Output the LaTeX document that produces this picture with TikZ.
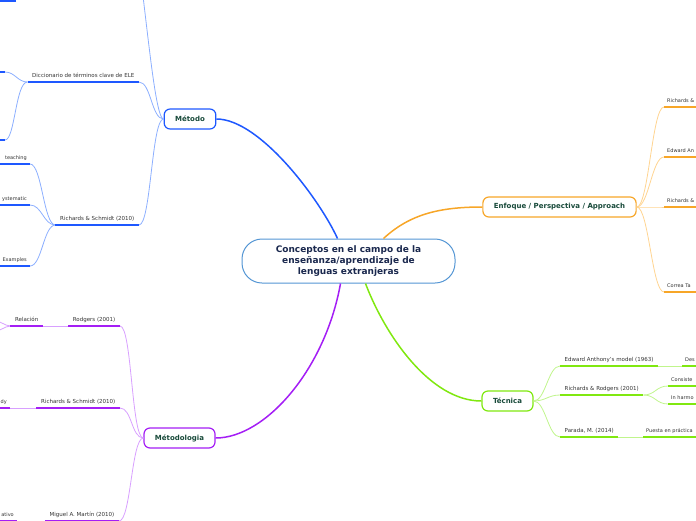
\documentclass[tikz,border=0pt]{standalone}
\usepackage{fontspec}
\setmainfont{DejaVu Sans}
\usetikzlibrary{positioning}
\definecolor{rootline}{RGB}{84,150,212}
\definecolor{rootink}{RGB}{26,40,78}
\definecolor{topicink}{RGB}{24,74,58}
\definecolor{leafink}{RGB}{51,51,51}
\definecolor{mblue}{RGB}{30,88,255}
\definecolor{lblue}{RGB}{140,175,255}
\definecolor{morange}{RGB}{247,166,40}
\definecolor{lorange}{RGB}{255,212,145}
\definecolor{mgreen}{RGB}{128,232,16}
\definecolor{lgreen}{RGB}{192,245,140}
\definecolor{mpurple}{RGB}{164,30,245}
\definecolor{lpurple}{RGB}{216,160,255}

\begin{document}
\begin{tikzpicture}[x=1pt,y=-1pt,
  root/.style={draw=rootline,line width=1pt,rounded corners=20pt,fill=white,minimum width=213pt,minimum height=44pt,align=center,text=rootink,font=\fontsize{9}{11}\selectfont\bfseries},
  topic/.style={draw=#1,line width=1.2pt,rounded corners=6pt,fill=white,minimum height=20pt,inner xsep=11pt,text=topicink,font=\fontsize{7}{8}\selectfont\bfseries},
  leaf/.style={inner xsep=4.5pt,inner ysep=3pt,text height=3.9pt,text depth=1pt,text=leafink,font=\fontsize{5.5}{6}\selectfont},
  edge/.style={leaf,inner xsep=3pt,font=\fontsize{5}{6}\selectfont},
  branch/.style={draw=#1,line width=1.5pt},
  twig/.style={draw=#1,line width=0.8pt},
  uline/.style={draw=#1,line width=1.8pt}]
  \useasboundingbox (0,0) rectangle (696,520);
  \clip (0,0) rectangle (696,520);

  \node[root] (root) at (348.5,261) {Conceptos en el campo de la\\enseñanza/aprendizaje de\\lenguas extranjeras};
  \node[topic=mblue] (met) at (190,119) {Método};
  \node[topic=morange] (enf) at (559.5,207) {Enfoque / Perspectiva / Approach};
  \node[topic=mgreen] (tec) at (507.5,401) {Técnica};
  \node[topic=mpurple] (mto) at (179.5,438) {Métodologia};

  \draw[branch=mblue] ([xshift=-11pt]root.north) .. controls (320,200) and (260,119) .. (met.east);
  \draw[branch=morange] ([xshift=35pt]root.north) .. controls (410,214) and (440,207) .. (enf.west);
  \draw[branch=mgreen] ([xshift=17pt]root.south) .. controls (385,335) and (430,401) .. (tec.west);
  \draw[branch=mpurple] ([xshift=-8pt]root.south) .. controls (325,370) and (265,438) .. (mto.east);

  \node[leaf,anchor=south east] (dic) at (139,82) {Diccionario de términos clave de ELE};
  \node[leaf,anchor=south east] (rsm) at (139,225) {Richards \& Schmidt (2010)};
  \node[edge,anchor=south east] (tea) at (30,164) {teaching};
  \node[edge,anchor=south east] (sys) at (30,205) {ystematic};
  \node[edge,anchor=south east] (exa) at (30,266) {Examples};
  \coordinate (mup) at (128,-80);
  \coordinate (dic1) at (5,72);
  \coordinate (dic2) at (5,140);
  \coordinate (cut) at (16,1);

  \draw[twig=lblue] (met.west) .. controls +(-12,0) and +(12,0) .. (mup);
  \draw[twig=lblue] (met.west) .. controls +(-12,0) and +(12,0) .. (dic.south east);
  \draw[twig=lblue] (met.west) .. controls +(-12,0) and +(12,0) .. (rsm.south east);
  \draw[twig=lblue] (dic.south west) .. controls +(-10,0) and +(10,0) .. (dic1);
  \draw[twig=lblue] (dic.south west) .. controls +(-12,0) and +(10,0) .. (dic2);
  \foreach \n in {tea,sys,exa}
    \draw[twig=lblue] (rsm.south west) .. controls +(-12,0) and +(12,0) .. (\n.south east);
  \foreach \n in {dic,rsm}
    \draw[uline=mblue] (\n.south west) -- (\n.south east);
  \foreach \n in {tea,sys,exa}
    \draw[uline=mblue] (\n.south east) -- ++(-40,0);
  \draw[uline=mblue] (dic1) -- ++(-10,0);
  \draw[uline=mblue] (dic2) -- ++(-10,0);
  \draw[uline=mblue] (cut) -- ++(-20,0);

  \node[edge,anchor=south west] (en1) at (664,107) {Richards \&};
  \node[edge,anchor=south west] (en2) at (664,157) {Edward An};
  \node[edge,anchor=south west] (en3) at (664,207) {Richards \&};
  \node[edge,anchor=south west] (en4) at (664,292) {Correa Ta};
  \foreach \n in {en1,en2,en3,en4}{
    \draw[twig=lorange] (enf.east) .. controls +(12,0) and +(-12,0) .. (\n.south west);
    \draw[uline=morange] (\n.south west) -- ++(40,0);
  }

  \node[leaf,anchor=south west] (te1) at (560,366) {Edward Anthony’s model (1963)};
  \node[edge,anchor=south west] (te1a) at (682,366) {Des};
  \node[leaf,anchor=south west] (te2) at (560,395) {Richards \& Rodgers (2001)};
  \node[edge,anchor=south west] (te2a) at (668,386) {Consiste};
  \node[edge,anchor=south west] (te2b) at (668,404) {In harmo};
  \node[leaf,anchor=south west] (te3) at (560,437) {Parada, M. (2014)};
  \node[edge,anchor=south west] (te3a) at (643,437) {Puesta en práctica};
  \foreach \n in {te1,te2,te3}
    \draw[twig=lgreen] (tec.east) .. controls +(12,0) and +(-12,0) .. (\n.south west);
  \draw[twig=lgreen] (te1.south east) -- (te1a.south west);
  \draw[twig=lgreen] (te3.south east) -- (te3a.south west);
  \foreach \n in {te2a,te2b}
    \draw[twig=lgreen] (te2.south east) .. controls +(12,0) and +(-12,0) .. (\n.south west);
  \foreach \n in {te1,te2,te3}
    \draw[uline=mgreen] (\n.south west) -- (\n.south east);
  \foreach \n in {te1a,te2a,te2b,te3a}
    \draw[uline=mgreen] (\n.south west) -- ++(60,0);

  \node[leaf,anchor=south east] (mt1) at (120,326) {Rodgers (2001)};
  \node[leaf,anchor=south east] (mt1a) at (43,326) {Relación};
  \node[leaf,anchor=south east] (mt2) at (120,408) {Richards \& Schmidt (2010)};
  \node[edge,anchor=south east] (mt2a) at (10,408) {dy};
  \node[leaf,anchor=south east] (mt3) at (119,521) {Miguel A. Martín (2010)};
  \node[edge,anchor=south east] (mt3a) at (17,521) {ativo};
  \coordinate (rel1) at (-6,320);
  \coordinate (rel2) at (-6,332);
  \foreach \n in {mt1,mt2,mt3}
    \draw[twig=lpurple] (mto.west) .. controls +(-12,0) and +(12,0) .. (\n.south east);
  \draw[twig=lpurple] (mt1.south west) -- (mt1a.south east);
  \draw[twig=lpurple] (mt2.south west) -- (mt2a.south east);
  \draw[twig=lpurple] (mt3.south west) -- (mt3a.south east);
  \foreach \n in {rel1,rel2}
    \draw[twig=lpurple] (mt1a.south west) .. controls +(-5,0) and +(4,0) .. (\n);
  \foreach \n in {mt1,mt1a,mt2,mt3}
    \draw[uline=mpurple] (\n.south west) -- (\n.south east);
  \draw[uline=mpurple] (mt3a.south east) -- ++(-20,0);
  \draw[uline=mpurple] (mt2a.south east) -- ++(-20,0);
\end{tikzpicture}
\end{document}
